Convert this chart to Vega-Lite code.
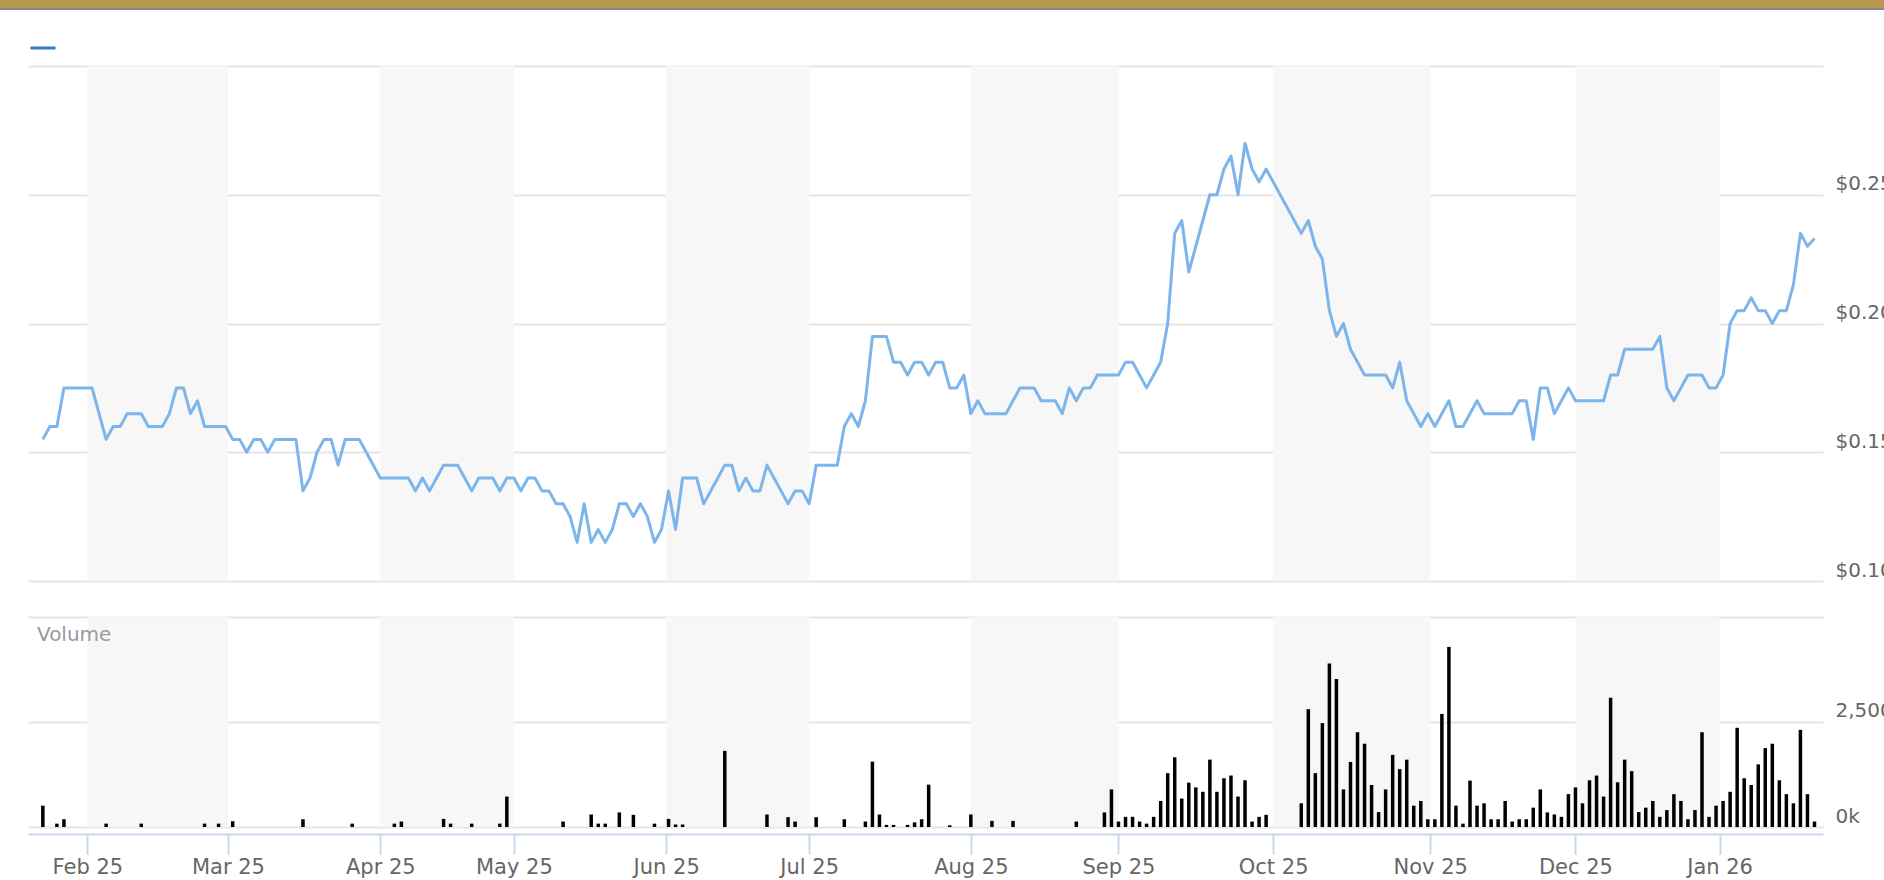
{
"$schema":"https://vega.github.io/schema/vega-lite/v6.json",
"width":1795,"height":761,
"autosize":{"type":"none"},
"padding":{"left":28,"top":66,"right":61,"bottom":53},
"background":"white",
"config":{"view":{"stroke":null},"font":"DejaVu Sans","axis":{"labelFont":"DejaVu Sans"},"legend":{"labelFont":"DejaVu Sans"}},
"datasets":{
"bands":[{"s":6.333,"e":26.333},{"s":48,"e":67},{"s":88.667,"e":109},{"s":132,"e":153},{"s":175,"e":197.333},{"s":218,"e":238.5}],
"d":[
{"i":0,"p":0.155,"v":508},{"i":1,"p":0.16,"v":0},{"i":2,"p":0.16,"v":80},{"i":3,"p":0.175,"v":185},{"i":4,"p":0.175,"v":0},{"i":5,"p":0.175,"v":0},{"i":6,"p":0.175,"v":0},{"i":7,"p":0.175,"v":0},{"i":8,"p":0.165,"v":0},{"i":9,"p":0.155,"v":80},
{"i":10,"p":0.16,"v":0},{"i":11,"p":0.16,"v":0},{"i":12,"p":0.165,"v":0},{"i":13,"p":0.165,"v":0},{"i":14,"p":0.165,"v":80},{"i":15,"p":0.16,"v":0},{"i":16,"p":0.16,"v":0},{"i":17,"p":0.16,"v":0},{"i":18,"p":0.165,"v":0},{"i":19,"p":0.175,"v":0},
{"i":20,"p":0.175,"v":0},{"i":21,"p":0.165,"v":0},{"i":22,"p":0.17,"v":0},{"i":23,"p":0.16,"v":80},{"i":24,"p":0.16,"v":0},{"i":25,"p":0.16,"v":80},{"i":26,"p":0.16,"v":0},{"i":27,"p":0.155,"v":137},{"i":28,"p":0.155,"v":0},{"i":29,"p":0.15,"v":0},
{"i":30,"p":0.155,"v":0},{"i":31,"p":0.155,"v":0},{"i":32,"p":0.15,"v":0},{"i":33,"p":0.155,"v":0},{"i":34,"p":0.155,"v":0},{"i":35,"p":0.155,"v":0},{"i":36,"p":0.155,"v":0},{"i":37,"p":0.135,"v":185},{"i":38,"p":0.14,"v":0},{"i":39,"p":0.15,"v":0},
{"i":40,"p":0.155,"v":0},{"i":41,"p":0.155,"v":0},{"i":42,"p":0.145,"v":0},{"i":43,"p":0.155,"v":0},{"i":44,"p":0.155,"v":80},{"i":45,"p":0.155,"v":0},{"i":46,"p":0.15,"v":0},{"i":47,"p":0.145,"v":0},{"i":48,"p":0.14,"v":0},{"i":49,"p":0.14,"v":0},
{"i":50,"p":0.14,"v":80},{"i":51,"p":0.14,"v":130},{"i":52,"p":0.14,"v":0},{"i":53,"p":0.135,"v":0},{"i":54,"p":0.14,"v":0},{"i":55,"p":0.135,"v":0},{"i":56,"p":0.14,"v":0},{"i":57,"p":0.145,"v":193},{"i":58,"p":0.145,"v":80},{"i":59,"p":0.145,"v":0},
{"i":60,"p":0.14,"v":0},{"i":61,"p":0.135,"v":80},{"i":62,"p":0.14,"v":0},{"i":63,"p":0.14,"v":0},{"i":64,"p":0.14,"v":0},{"i":65,"p":0.135,"v":80},{"i":66,"p":0.14,"v":725},{"i":67,"p":0.14,"v":0},{"i":68,"p":0.135,"v":0},{"i":69,"p":0.14,"v":0},
{"i":70,"p":0.14,"v":0},{"i":71,"p":0.135,"v":0},{"i":72,"p":0.135,"v":0},{"i":73,"p":0.13,"v":0},{"i":74,"p":0.13,"v":130},{"i":75,"p":0.125,"v":0},{"i":76,"p":0.115,"v":0},{"i":77,"p":0.13,"v":0},{"i":78,"p":0.115,"v":298},{"i":79,"p":0.12,"v":80},
{"i":80,"p":0.115,"v":80},{"i":81,"p":0.12,"v":0},{"i":82,"p":0.13,"v":347},{"i":83,"p":0.13,"v":0},{"i":84,"p":0.125,"v":290},{"i":85,"p":0.13,"v":0},{"i":86,"p":0.125,"v":0},{"i":87,"p":0.115,"v":80},{"i":88,"p":0.12,"v":0},{"i":89,"p":0.135,"v":193},
{"i":90,"p":0.12,"v":60},{"i":91,"p":0.14,"v":60},{"i":92,"p":0.14,"v":0},{"i":93,"p":0.14,"v":0},{"i":94,"p":0.13,"v":0},{"i":95,"p":0.135,"v":0},{"i":96,"p":0.14,"v":0},{"i":97,"p":0.145,"v":1814},{"i":98,"p":0.145,"v":0},{"i":99,"p":0.135,"v":0},
{"i":100,"p":0.14,"v":0},{"i":101,"p":0.135,"v":0},{"i":102,"p":0.135,"v":0},{"i":103,"p":0.145,"v":298},{"i":104,"p":0.14,"v":0},{"i":105,"p":0.135,"v":0},{"i":106,"p":0.13,"v":234},{"i":107,"p":0.135,"v":130},{"i":108,"p":0.135,"v":0},{"i":109,"p":0.13,"v":0},
{"i":110,"p":0.145,"v":234},{"i":111,"p":0.145,"v":0},{"i":112,"p":0.145,"v":0},{"i":113,"p":0.145,"v":0},{"i":114,"p":0.16,"v":185},{"i":115,"p":0.165,"v":0},{"i":116,"p":0.16,"v":0},{"i":117,"p":0.17,"v":130},{"i":118,"p":0.195,"v":1556},{"i":119,"p":0.195,"v":298},
{"i":120,"p":0.195,"v":50},{"i":121,"p":0.185,"v":50},{"i":122,"p":0.185,"v":0},{"i":123,"p":0.18,"v":50},{"i":124,"p":0.185,"v":110},{"i":125,"p":0.185,"v":185},{"i":126,"p":0.18,"v":1008},{"i":127,"p":0.185,"v":0},{"i":128,"p":0.185,"v":0},{"i":129,"p":0.175,"v":40},
{"i":130,"p":0.175,"v":0},{"i":131,"p":0.18,"v":0},{"i":132,"p":0.165,"v":298},{"i":133,"p":0.17,"v":0},{"i":134,"p":0.165,"v":0},{"i":135,"p":0.165,"v":145},{"i":136,"p":0.165,"v":0},{"i":137,"p":0.165,"v":0},{"i":138,"p":0.17,"v":145},{"i":139,"p":0.175,"v":0},
{"i":140,"p":0.175,"v":0},{"i":141,"p":0.175,"v":0},{"i":142,"p":0.17,"v":0},{"i":143,"p":0.17,"v":0},{"i":144,"p":0.17,"v":0},{"i":145,"p":0.165,"v":0},{"i":146,"p":0.175,"v":0},{"i":147,"p":0.17,"v":130},{"i":148,"p":0.175,"v":0},{"i":149,"p":0.175,"v":0},
{"i":150,"p":0.18,"v":0},{"i":151,"p":0.18,"v":347},{"i":152,"p":0.18,"v":895},{"i":153,"p":0.18,"v":130},{"i":154,"p":0.185,"v":242},{"i":155,"p":0.185,"v":242},{"i":156,"p":0.18,"v":130},{"i":157,"p":0.175,"v":80},{"i":158,"p":0.18,"v":242},{"i":159,"p":0.185,"v":620},
{"i":160,"p":0.2,"v":1282},{"i":161,"p":0.235,"v":1660},{"i":162,"p":0.24,"v":677},{"i":163,"p":0.22,"v":1056},{"i":164,"p":0.23,"v":943},{"i":165,"p":0.24,"v":838},{"i":166,"p":0.25,"v":1604},{"i":167,"p":0.25,"v":838},{"i":168,"p":0.26,"v":1161},{"i":169,"p":0.265,"v":1225},
{"i":170,"p":0.25,"v":725},{"i":171,"p":0.27,"v":1112},{"i":172,"p":0.26,"v":130},{"i":173,"p":0.255,"v":242},{"i":174,"p":0.26,"v":290},{"i":175,"p":0.255,"v":0},{"i":176,"p":0.25,"v":0},{"i":177,"p":0.245,"v":0},{"i":178,"p":0.24,"v":0},{"i":179,"p":0.235,"v":564},
{"i":180,"p":0.24,"v":2805},{"i":181,"p":0.23,"v":1282},{"i":182,"p":0.225,"v":2474},{"i":183,"p":0.205,"v":3893},{"i":184,"p":0.195,"v":3522},{"i":185,"p":0.2,"v":895},{"i":186,"p":0.19,"v":1548},{"i":187,"p":0.185,"v":2257},{"i":188,"p":0.18,"v":1983},{"i":189,"p":0.18,"v":1000},
{"i":190,"p":0.18,"v":355},{"i":191,"p":0.18,"v":895},{"i":192,"p":0.175,"v":1717},{"i":193,"p":0.185,"v":1378},{"i":194,"p":0.17,"v":1604},{"i":195,"p":0.165,"v":508},{"i":196,"p":0.16,"v":620},{"i":197,"p":0.165,"v":185},{"i":198,"p":0.16,"v":185},{"i":199,"p":0.165,"v":2692},
{"i":200,"p":0.17,"v":4288},{"i":201,"p":0.16,"v":508},{"i":202,"p":0.16,"v":80},{"i":203,"p":0.165,"v":1104},{"i":204,"p":0.17,"v":508},{"i":205,"p":0.165,"v":564},{"i":206,"p":0.165,"v":185},{"i":207,"p":0.165,"v":185},{"i":208,"p":0.165,"v":620},{"i":209,"p":0.165,"v":130},
{"i":210,"p":0.17,"v":185},{"i":211,"p":0.17,"v":185},{"i":212,"p":0.155,"v":460},{"i":213,"p":0.175,"v":895},{"i":214,"p":0.175,"v":347},{"i":215,"p":0.165,"v":298},{"i":216,"p":0.17,"v":242},{"i":217,"p":0.175,"v":782},{"i":218,"p":0.17,"v":943},{"i":219,"p":0.17,"v":564},
{"i":220,"p":0.17,"v":1112},{"i":221,"p":0.17,"v":1225},{"i":222,"p":0.17,"v":725},{"i":223,"p":0.18,"v":3079},{"i":224,"p":0.18,"v":1064},{"i":225,"p":0.19,"v":1604},{"i":226,"p":0.19,"v":1330},{"i":227,"p":0.19,"v":355},{"i":228,"p":0.19,"v":460},{"i":229,"p":0.19,"v":620},
{"i":230,"p":0.195,"v":242},{"i":231,"p":0.175,"v":403},{"i":232,"p":0.17,"v":782},{"i":233,"p":0.175,"v":620},{"i":234,"p":0.18,"v":185},{"i":235,"p":0.18,"v":403},{"i":236,"p":0.18,"v":2257},{"i":237,"p":0.175,"v":242},{"i":238,"p":0.175,"v":508},{"i":239,"p":0.18,"v":620},
{"i":240,"p":0.2,"v":838},{"i":241,"p":0.205,"v":2362},{"i":242,"p":0.205,"v":1161},{"i":243,"p":0.21,"v":1000},{"i":244,"p":0.205,"v":1491},{"i":245,"p":0.205,"v":1878},{"i":246,"p":0.2,"v":1983},{"i":247,"p":0.205,"v":1112},{"i":248,"p":0.205,"v":782},{"i":249,"p":0.215,"v":564},
{"i":250,"p":0.235,"v":2313},{"i":251,"p":0.23,"v":782},{"i":252,"p":0.233,"v":130}
]},
"layer":[
{"layer":[
 {"data":{"name":"bands"},"mark":{"type":"rect","color":"#f7f7f7"},
  "encoding":{"x":{"field":"s","type":"quantitative","title":null,"scale":{"domain":[-1.4,252.5],"nice":false,"zero":false}},"x2":{"field":"e"},
   "y":{"datum":0.1,"scale":{"domain":[0.00447,0.3],"nice":false,"zero":false}},"y2":{"datum":0.3}}},
 {"data":{"values":[{"k":"header"}]},"mark":{"type":"rect","color":"#b8974f"},
  "encoding":{"x":{"datum":-10,"scale":{"domain":[-1.4,252.5],"nice":false,"zero":false}},"x2":{"datum":270},
   "y":{"datum":0.32563,"scale":{"domain":[0.00447,0.3],"nice":false,"zero":false}},"y2":{"datum":0.32252}}},
 {"data":{"values":[{"k":"header"}]},"mark":{"type":"rect","color":"#878787"},
  "encoding":{"x":{"datum":-10,"scale":{"domain":[-1.4,252.5],"nice":false,"zero":false}},"x2":{"datum":270},
   "y":{"datum":0.32252,"scale":{"domain":[0.00447,0.3],"nice":false,"zero":false}},"y2":{"datum":0.32175}}},
 {"data":{"values":[]},"mark":{"type":"rule","strokeWidth":3},
  "encoding":{"y":{"datum":0.2,"scale":{"domain":[0.00447,0.3],"nice":false,"zero":false}},
   "color":{"datum":"Price","scale":{"range":["#3b78b8"]},
    "legend":{"orient":"none","legendX":1,"legendY":-32,"title":null,"labelExpr":"''","symbolType":"stroke","symbolSize":625,"symbolStrokeWidth":3,"padding":0,"symbolOffset":0}}}},
 {"data":{"name":"d"},"mark":{"type":"line","strokeWidth":3,"strokeJoin":"round","color":"#7cb5ec"},
  "encoding":{
   "x":{"field":"i","type":"quantitative","title":null,"scale":{"domain":[-1.4,252.5],"nice":false,"zero":false}},
   "y":{"field":"p","type":"quantitative","title":null,"scale":{"domain":[0.00447,0.3],"nice":false,"zero":false},
    "axis":{"orient":"right","values":[0.1,0.15,0.2,0.25,0.3],"grid":true,"gridColor":"#e6e6e6","gridWidth":2,"domain":false,"ticks":false,"labelPadding":12,"labelFontSize":20,"labelColor":"#666666","labelBaseline":"alphabetic","labelOffset":-5,"labelAlign":"left","labelBound":false,"labelOverlap":false,"labelExpr":"datum.value > 0.29 ? '' : '$' + format(datum.value, '.2f')"}}}}
]},
{"layer":[
 {"data":{"name":"bands"},"mark":{"type":"rect","color":"#f7f7f7"},
  "encoding":{"x":{"field":"s","type":"quantitative","title":null,"scale":{"domain":[-1.4,252.5],"nice":false,"zero":false}},"x2":{"field":"e"},
   "y":{"datum":0,"scale":{"domain":[0,18119],"nice":false,"zero":false}},"y2":{"datum":5000}}},
 {"data":{"name":"d"},"mark":{"type":"bar","color":"#000000","size":3.5},
  "encoding":{
   "x":{"field":"i","type":"quantitative","title":null,"scale":{"domain":[-1.4,252.5],"nice":false,"zero":false},
    "axis":{"orient":"bottom","values":[6.333,26.333,48,67,88.667,109,132,153,175,197.333,218,238.5],"labelExpr":"['Feb 25','Mar 25','Apr 25','May 25','Jun 25','Jul 25','Aug 25','Sep 25','Oct 25','Nov 25','Dec 25','Jan 26'][indexof([6.333,26.333,48,67,88.667,109,132,153,175,197.333,218,238.5], datum.value)]","offset":7,"tickSize":20,"tickWidth":2,"domainWidth":2,"domainColor":"#ccd6eb","tickColor":"#ccd6eb","labelFontSize":21,"labelColor":"#666666","labelPadding":2,"grid":false,"labelFlush":false,"labelOverlap":false}},
   "y":{"field":"v","type":"quantitative","title":null,"scale":{"domain":[0,18119],"nice":false,"zero":false},
    "axis":{"orient":"right","values":[0,2500,5000],"grid":true,"gridColor":"#e6e6e6","gridWidth":2,"domain":false,"ticks":false,"labelPadding":12,"labelFontSize":20,"labelColor":"#666666","labelBaseline":"alphabetic","labelOffset":-5,"labelAlign":"left","labelBound":false,"labelOverlap":false,"labelExpr":"datum.value == 0 ? '0k' : datum.value == 2500 ? '2,500' : ''"}}}},
 {"data":{"values":[{"t":"Volume"}]},"mark":{"type":"text","align":"left","baseline":"alphabetic","dx":4,"dy":24,"fontSize":20,"color":"#9a9a9a","font":"DejaVu Sans"},
  "encoding":{"x":{"datum":-1.4,"scale":{"domain":[-1.4,252.5],"nice":false,"zero":false}},"y":{"datum":5000,"scale":{"domain":[0,18119],"nice":false,"zero":false}},"text":{"field":"t"}}}
]}
],
"resolve":{"scale":{"y":"independent"}}
}
